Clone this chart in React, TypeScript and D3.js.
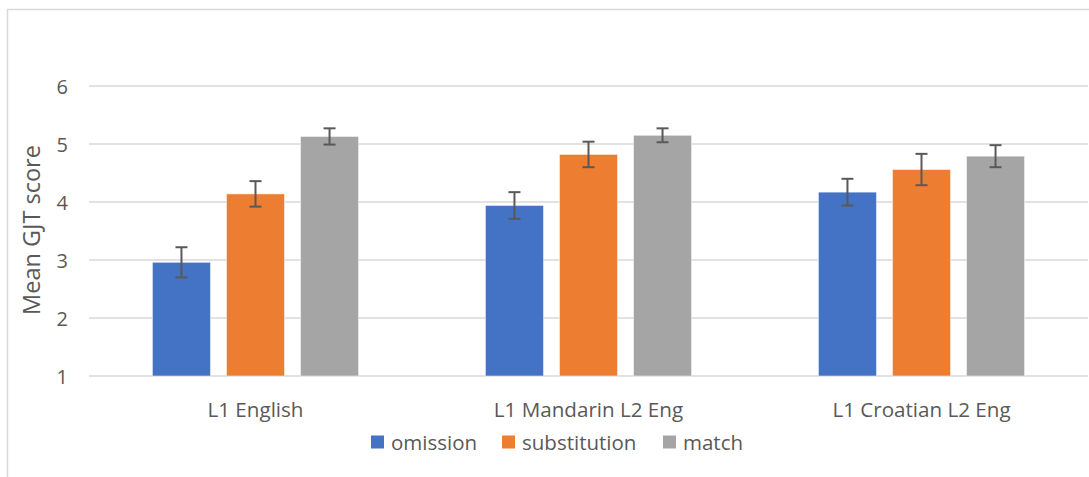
import React from "react";
import * as d3 from "d3";

const categories = ["L1 English", "L1 Mandarin L2 Eng", "L1 Croatian L2 Eng"];
const seriesNames = ["omission", "substitution", "match"];
const seriesColors = ["#4472C4", "#ED7D31", "#A5A5A5"];
const omission = [2.96, 3.94, 4.17];
const substitution = [4.14, 4.82, 4.56];
const match = [5.13, 5.15, 4.79];
const omissionErr = [0.26, 0.23, 0.23];
const substitutionErr = [0.22, 0.22, 0.27];
const matchErr = [0.14, 0.12, 0.19];
const yTicks = [1, 2, 3, 4, 5, 6];

const W = 1089;
const H = 477;
const left = 89;
const right = 1088;
const top = 86;
const bottom = 376;
const font = "'Open Sans', sans-serif";
const textColor = "#595959";

export default function App() {
  const values = [omission, substitution, match];
  const errs = [omissionErr, substitutionErr, matchErr];
  const x0 = d3
    .scaleBand<string>()
    .domain(categories)
    .range([left, right])
    .paddingInner(0.381)
    .paddingOuter(0.1905);
  const x1 = d3
    .scaleBand<string>()
    .domain(seriesNames)
    .range([0, x0.bandwidth()])
    .paddingInner(0.216)
    .paddingOuter(0);
  const y = d3.scaleLinear().domain([1, 6]).range([bottom, top]);

  const legendX = [371, 502, 663];

  return (
    <svg
      width={W}
      height={H}
      style={{ position: "absolute", left: 0, top: 0, background: "#fff" }}
    >
      <rect x={0} y={0} width={W} height={H} fill="#fff" />
      <path d={`M7.5,${H} V9.5 H${W}`} fill="none" stroke="#d9d9d9" strokeWidth={1.5} />
      {yTicks.map((t) => (
        <g key={t}>
          <line x1={left} x2={right} y1={y(t)} y2={y(t)} stroke="#d9d9d9" strokeWidth={1.5} />
          <text
            x={68}
            y={y(t)}
            textAnchor="end"
            dominantBaseline="central"
            fontFamily={font}
            fontSize={20}
            fill={textColor}
          >
            {t}
          </text>
        </g>
      ))}
      <text
        transform={`translate(31,230) rotate(-90)`}
        textAnchor="middle"
        dominantBaseline="central"
        fontFamily={font}
        fontSize={23.5}
        fill={textColor}
      >
        Mean GJT score
      </text>
      {categories.map((c, ci) => (
        <g key={c} transform={`translate(${x0(c)},0)`}>
          {seriesNames.map((s, si) => {
            const v = values[si][ci];
            const e = errs[si][ci];
            const bx = x1(s)!;
            const bw = x1.bandwidth();
            const cx = bx + bw / 2;
            return (
              <g key={s}>
                <rect
                  x={bx}
                  y={y(v)}
                  width={bw}
                  height={y(1) - y(v)}
                  fill={seriesColors[si]}
                  stroke="#ffffff"
                  strokeOpacity={0.5}
                  strokeWidth={1}
                />
                <line x1={cx} x2={cx} y1={y(v + e)} y2={y(v - e)} stroke="#595959" strokeWidth={2} />
                <line x1={cx - 6} x2={cx + 6} y1={y(v + e)} y2={y(v + e)} stroke="#595959" strokeWidth={2} />
                <line x1={cx - 6} x2={cx + 6} y1={y(v - e)} y2={y(v - e)} stroke="#595959" strokeWidth={2} />
              </g>
            );
          })}
          <text
            x={x0.bandwidth() / 2}
            y={409}
            textAnchor="middle"
            dominantBaseline="central"
            fontFamily={font}
            fontSize={20.6}
            fill={textColor}
          >
            {c}
          </text>
        </g>
      ))}
      {seriesNames.map((s, si) => (
        <g key={s} transform={`translate(${legendX[si]},442)`}>
          <rect x={0} y={-6.5} width={13} height={13} fill={seriesColors[si]} />
          <text
            x={20}
            y={0}
            dominantBaseline="central"
            fontFamily={font}
            fontSize={20.5}
            fill={textColor}
          >
            {s}
          </text>
        </g>
      ))}
    </svg>
  );
}
